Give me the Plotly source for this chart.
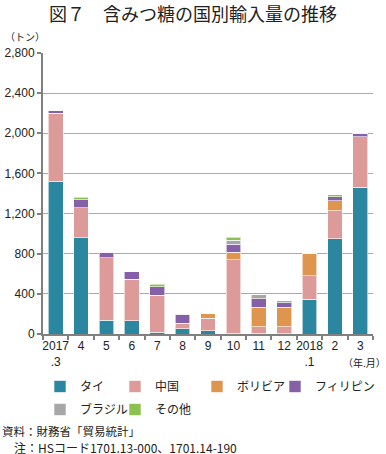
import plotly.graph_objects as go

categories = ["2017<br>.3", "4", "5", "6", "7", "8", "9", "10", "11", "12", "2018<br>.1", "2", "3"]
thai = [1520, 960, 135, 130, 15, 53, 33, 10, 10, 5, 345, 950, 1460]
china = [680, 300, 625, 418, 371, 54, 123, 730, 63, 65, 233, 276, 507]
bolivia = [0, 0, 0, 0, 0, 0, 46, 74, 193, 196, 222, 100, 0]
philippines = [25, 80, 57, 73, 86, 86, 0, 82, 86, 46, 0, 43, 27]
brazil = [0, 0, 0, 0, 0, 5, 0, 40, 40, 20, 0, 0, 0]
other = [0, 25, 0, 0, 26, 0, 0, 27, 0, 0, 0, 20, 0]

series = [
    ("タイ", thai, "#2b879f"),
    ("中国", china, "#dc9a98"),
    ("ボリビア", bolivia, "#e0954f"),
    ("フィリピン", philippines, "#8560a8"),
    ("ブラジル", brazil, "#a6a6a6"),
    ("その他", other, "#8cc04f"),
]

JP = "Noto Sans CJK JP"
NUM = "Liberation Sans, Arial"
W, H = 386, 454

# legend slot positions (container pixels: left, top)
legend_slots = [(40, 372), (115, 372), (197, 372), (275, 372), (40, 395), (115, 395)]

fig = go.Figure()
for i, (name, vals, col) in enumerate(series):
    lname = "legend" if i == 0 else f"legend{i + 1}"
    fig.add_trace(go.Bar(
        x=categories, y=vals, name=name, legend=lname,
        marker=dict(color=col, line=dict(color="rgba(255,255,255,0.6)", width=1)),
    ))
    lx, ly = legend_slots[i]
    fig.update_layout({lname: dict(
        orientation="h", xref="container", yref="container",
        x=lx / W, y=1 - ly / H, xanchor="left", yanchor="top",
        font=dict(family=JP, size=12, color="#222"),
        bgcolor="rgba(0,0,0,0)", itemwidth=30,
    )})

fig.update_layout(
    barmode="stack",
    bargap=0.42,
    width=W, height=H,
    margin=dict(l=43, r=13, t=53, b=120),
    paper_bgcolor="white", plot_bgcolor="white",
    showlegend=True,
    title=dict(text="図７　含みつ糖の国別輸入量の推移", x=0.5, xanchor="center",
               xref="container", y=0.968, yref="container", yanchor="middle",
               font=dict(family=JP, size=18, color="#222")),
    font=dict(family=NUM, size=12, color="#222"),
)

fig.update_yaxes(range=[0, 2800], dtick=400, tickformat=",", automargin=False,
                 showgrid=True, gridcolor="#aaaaaa", gridwidth=1.3,
                 showline=True, linecolor="#808080", linewidth=2,
                 ticks="outside", ticklen=4, tickcolor="#808080", tickwidth=1.5,
                 tickfont=dict(family=NUM, size=12, color="#222"), zeroline=False)
fig.update_xaxes(showline=True, linecolor="#808080", linewidth=2, automargin=False,
                 ticks="outside", tickson="boundaries", ticklen=4, tickangle=0,
                 tickcolor="#808080", tickwidth=1.5,
                 tickfont=dict(family=NUM, size=12, color="#222"), showgrid=False)

fig.add_annotation(text="（トン）", xref="paper", yref="paper", x=-0.12, y=1.06,
                   xanchor="left", yanchor="middle", showarrow=False,
                   font=dict(family=JP, size=10, color="#222"))
fig.add_annotation(text="（年.月）", xref="paper", yref="paper", x=1.045, y=-0.103,
                   xanchor="right", yanchor="middle", showarrow=False,
                   font=dict(family=JP, size=10, color="#222"))
fig.add_annotation(text="資料：財務省「貿易統計」", xref="paper", yref="paper",
                   x=-0.13, y=-0.345, xanchor="left", yanchor="middle", showarrow=False,
                   font=dict(family=JP, size=11.5, color="#222"))
fig.add_annotation(text="注：HSコード1701.13-000、1701.14-190", xref="paper", yref="paper",
                   x=-0.095, y=-0.405, xanchor="left", yanchor="middle", showarrow=False,
                   font=dict(family=JP, size=12, color="#222"))

fig.write_html("out.html", config={"displayModeBar": False},
               post_script="document.body.style.margin='0';")
